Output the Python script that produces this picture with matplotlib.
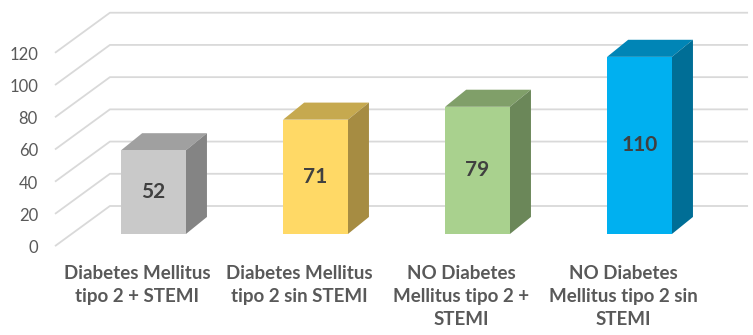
import matplotlib
matplotlib.use("Agg")
import matplotlib.pyplot as plt
from matplotlib.patches import Polygon

plt.rcParams['font.family'] = ['Lato', 'DejaVu Sans']

# datos
categorias = ["Diabetes Mellitus\ntipo 2 + STEMI",
              "Diabetes Mellitus\ntipo 2 sin STEMI",
              "NO Diabetes\nMellitus tipo 2 +\nSTEMI",
              "NO Diabetes\nMellitus tipo 2 sin\nSTEMI"]
valores = [52, 71, 79, 110]
ticks = [0, 20, 40, 60, 80, 100, 120]

# colores: frente, arriba, lado
col_frente = ["#C9C9C9", "#FFD966", "#A9D18E", "#00B0F0"]
col_arriba = ["#A0A0A0", "#C6A94F", "#809F69", "#0085B6"]
col_lado = ["#848484", "#A68C42", "#6B8759", "#006E96"]

# geometria (unidades de datos)
ancho = 0.40
dx, dy = 0.13, 10.6          # profundidad de la barra
x_frente, y_frente = -0.608, -7.5   # esquina delantera del piso
x_fondo, y_fondo = -0.269, 17.4     # pared del fondo
x_fin = 3.67

fig = plt.figure(figsize=(7.53, 3.35), dpi=100)
ax = fig.add_axes([0, 0, 1, 1])
ax.set_xlim(-0.9475, 3.7006)
ax.set_ylim(-62.7, 145.3)
ax.axis("off")

# lineas de cuadricula (pared y piso)
for v in ticks:
    ax.plot([x_frente, x_fondo, x_fin], [v + y_frente, v + y_fondo, v + y_fondo],
            color="#D9D9D9", lw=1.3, zorder=1, solid_capstyle="butt")
    ax.text(x_frente - 0.105, v - 8.7, str(v), ha="right", va="center",
            fontsize=12, color="#595959")

xs = list(range(len(valores)))
ax.bar(xs, valores, width=ancho, color=col_frente, zorder=3)

for x, v, ca, cl in zip(xs, valores, col_arriba, col_lado):
    x0, x1 = x - ancho / 2, x + ancho / 2
    arriba = [(x0, v), (x1, v), (x1 + dx, v + dy), (x0 + dx, v + dy)]
    lado = [(x1, 0), (x1 + dx, dy), (x1 + dx, v + dy), (x1, v)]
    ax.add_patch(Polygon(arriba, closed=True, facecolor=ca, edgecolor="none", zorder=2))
    ax.add_patch(Polygon(lado, closed=True, facecolor=cl, edgecolor="none", zorder=2))
    ax.text(x, v / 2, str(v), ha="center", va="center", fontsize=15,
            fontweight="bold", color="#404040", zorder=4)

# etiquetas de categorias
for x, c in zip(xs, categorias):
    ax.text(x - 0.10, -19.5, c, ha="center", va="top", fontsize=13.5,
            fontweight="bold", color="#595959", linespacing=1.4)

fig.savefig("out.png", dpi=100)
